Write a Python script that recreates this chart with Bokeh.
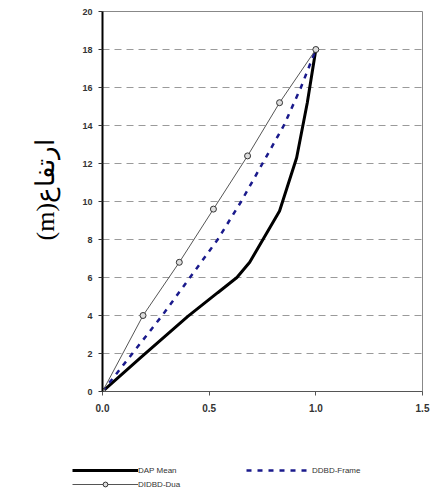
from bokeh.plotting import figure
from bokeh.models import Legend, LegendItem, Range1d, FixedTicker, Title
from bokeh.layouts import column, row
from bokeh.embed import file_html
from bokeh.resources import INLINE

# Data
dap_x = [0.0, 0.18, 0.40, 0.54, 0.63, 0.69, 0.83, 0.91, 0.96, 1.0]
dap_y = [0.0, 1.8, 3.95, 5.2, 6.0, 6.8, 9.5, 12.3, 15.2, 18.0]

frame_x = [0.0, 0.14, 0.28, 0.41, 0.54, 0.65, 0.75, 0.85, 0.93, 1.0]
frame_y = [0.0, 2.0, 4.0, 6.0, 8.0, 10.0, 12.0, 14.0, 16.0, 18.0]

dua_x = [0.0, 0.19, 0.36, 0.52, 0.68, 0.83, 1.0]
dua_y = [0.0, 4.0, 6.8, 9.6, 12.4, 15.2, 18.0]

y_ticks = [0, 2, 4, 6, 8, 10, 12, 14, 16, 18, 20]
x_ticks = [0.0, 0.5, 1.0, 1.5]
x_labels = {0.0: "0.0", 0.5: "0.5", 1.0: "1.0", 1.5: "1.5"}
y_label = "(m)ارتفاع"
series_names = ["DAP Mean", "DDBD-Frame", "DIDBD-Dua"]

DAP_STYLE = dict(line_color="black", line_width=3)
FRAME_STYLE = dict(line_color="#1a1a8c", line_width=2.5, line_dash="5 6")
DUA_STYLE = dict(line_color="#555555", line_width=1)
DUA_MARK = dict(marker="circle", size=6, fill_color="#dddddd", line_color="#333333", line_width=1)

p = figure(width=434, height=420, output_backend="svg", toolbar_location=None,
           x_range=Range1d(0, 1.5), y_range=Range1d(0, 20),
           min_border_left=102, min_border_right=12, min_border_top=11, min_border_bottom=29)

p.background_fill_color = "white"
p.border_fill_color = "white"
p.outline_line_color = "#888888"
p.outline_line_width = 1

p.xgrid.visible = False
p.ygrid.grid_line_color = "#9a9a9a"
p.ygrid.grid_line_dash = "7 5"
p.ygrid.grid_line_width = 1

p.yaxis.ticker = FixedTicker(ticks=y_ticks)
p.xaxis.ticker = FixedTicker(ticks=x_ticks)
p.xaxis.major_label_overrides = x_labels
p.yaxis.axis_line_color = "black"
p.yaxis.axis_line_width = 2
p.yaxis.major_tick_line_color = "#333333"
p.yaxis.major_tick_out = 4
p.yaxis.major_tick_in = 0
p.yaxis.minor_tick_line_color = None
p.xaxis.axis_line_color = "#555555"
p.xaxis.axis_line_width = 1
p.xaxis.major_tick_line_color = "#555555"
p.xaxis.major_tick_out = 4
p.xaxis.major_tick_in = 0
p.xaxis.minor_tick_line_color = None
for ax in (p.xaxis, p.yaxis):
    ax.major_label_text_font = "Liberation Sans"
    ax.major_label_text_font_style = "bold"
    ax.major_label_text_color = "#333333"
p.yaxis.major_label_text_font_size = "9px"
p.xaxis.major_label_text_font_size = "10px"
p.xaxis.major_label_standoff = 8
p.yaxis.major_label_standoff = 6

# y-axis title, placed as a side title so it can be shifted along the axis
ytitle = Title(text=y_label, align="left", offset=151, standoff=36, vertical_align="top",
               text_font="Liberation Serif", text_font_size="26px",
               text_font_style="normal", text_color="black")
p.add_layout(ytitle, "left")

p.line(dap_x, dap_y, **DAP_STYLE)
p.line(frame_x, frame_y, **FRAME_STYLE)
p.line(dua_x, dua_y, **DUA_STYLE)
p.scatter(dua_x, dua_y, **DUA_MARK)

# Legend figure (below the chart); its series renderers lie outside its visible range
lf = figure(width=434, height=75, output_backend="svg", toolbar_location=None,
            x_axis_location=None, y_axis_location=None,
            x_range=Range1d(100, 101), y_range=Range1d(100, 101),
            min_border_left=0, min_border_right=0, min_border_top=0, min_border_bottom=0)
lf.grid.visible = False
lf.outline_line_color = None
lf.background_fill_color = "white"
lf.border_fill_color = "white"

l_dap = lf.line(dap_x, dap_y, **DAP_STYLE)
l_frame = lf.line(frame_x, frame_y, **FRAME_STYLE)
l_dua = lf.line(dua_x, dua_y, **DUA_STYLE)
l_dua_m = lf.scatter(dua_x, dua_y, **DUA_MARK)

legend = Legend(items=[
    LegendItem(label=series_names[0], renderers=[l_dap]),
    LegendItem(label=series_names[1], renderers=[l_frame]),
    LegendItem(label=series_names[2], renderers=[l_dua, l_dua_m]),
], location=(72, 5), ncols=2, orientation="horizontal")
legend.glyph_width = 66
legend.glyph_height = 12
legend.label_text_font = "Liberation Sans"
legend.label_text_font_size = "8px"
legend.label_text_color = "#333333"
legend.label_standoff = 0
legend.label_width = 106
legend.spacing = 2
legend.padding = 0
legend.margin = 0
legend.border_line_color = None
legend.background_fill_alpha = 0
lf.add_layout(legend)

layout = column(p, row(lf, spacing=0), spacing=0)
open("out.html", "w").write(file_html(layout, INLINE))
